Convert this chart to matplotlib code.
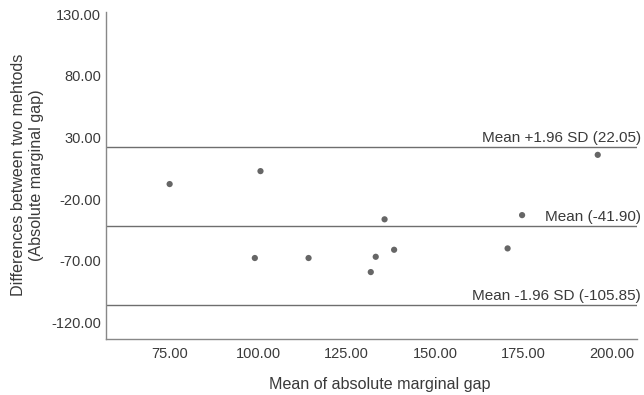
import matplotlib.pyplot as plt
import matplotlib.transforms as mtransforms

# Bland-Altman data
mean_vals = [74.9, 100.6, 196.0, 135.7, 174.6, 99.0, 114.2, 133.2, 138.4, 131.8, 170.5]
diff_vals = [-7.7, 2.8, 16.0, -36.3, -32.9, -67.7, -67.7, -66.7, -61.0, -79.1, -59.9]

limit_vals = [22.05, -41.90, -105.85]
limit_labels = ['Mean +1.96 SD (22.05)', 'Mean (-41.90)', 'Mean -1.96 SD (-105.85)']

xticks = [75, 100, 125, 150, 175, 200]
yticks = [-120, -70, -20, 30, 80, 130]

plt.rcParams['font.family'] = ['Liberation Sans', 'DejaVu Sans']
plt.rcParams['font.size'] = 11
txt = '#3a3a3a'

fig = plt.figure(figsize=(6.44, 3.95), dpi=100)
ax = fig.add_axes([0.1646, 0.143, 0.9891 - 0.1646, 0.970 - 0.143])

for v in limit_vals:
    ax.axhline(v, color='#6e6e6e', lw=1.0, zorder=1)

ax.scatter(mean_vals, diff_vals, s=20, color='#666666', edgecolors='none', zorder=3)

trans = mtransforms.blended_transform_factory(ax.transAxes, ax.transData)
for v, lab in zip(limit_vals, limit_labels):
    ax.annotate(lab, xy=(1.0, v), xycoords=trans, xytext=(3, 1.5), textcoords='offset points',
                ha='right', va='bottom', color=txt, fontsize=11)

ax.set_xlim(56.9, 207.1)
ax.set_ylim(-133.0, 132.0)
ax.set_xticks(xticks)
ax.set_xticklabels(['%.2f' % t for t in xticks])
ax.set_yticks(yticks)
ax.set_yticklabels(['%.2f' % t for t in yticks])
ax.tick_params(length=0, colors=txt, labelsize=10.5)
ax.tick_params(axis='y', pad=3.5)
ax.tick_params(axis='x', pad=6)

for side in ['top', 'right']:
    ax.spines[side].set_visible(False)
for side in ['left', 'bottom']:
    ax.spines[side].set_color('#888888')
    ax.spines[side].set_linewidth(1.0)

fig.text(380 / 644, 1 - 385 / 395, 'Mean of absolute marginal gap', color=txt,
         ha='center', va='center', fontsize=11.6)
fig.text(27.5 / 644, 1 - 175 / 395, 'Differences between two mehtods\n(Absolute marginal gap)',
         color=txt, ha='center', va='center', rotation=90, linespacing=1.3, fontsize=11.6)

fig.savefig('out.png', dpi=100)
